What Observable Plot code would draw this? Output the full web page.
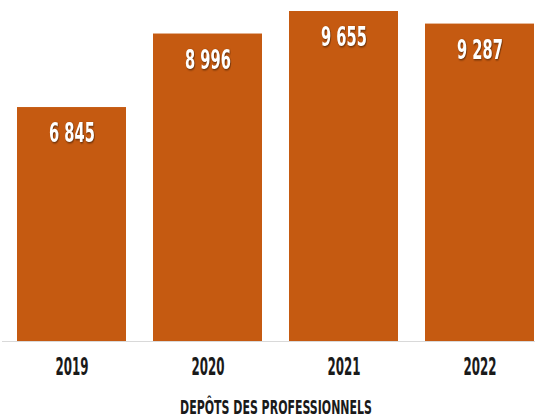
<!DOCTYPE html>
<html>
<head>
<meta charset="utf-8">
<script src="https://cdn.jsdelivr.net/npm/d3@7"></script>
<script src="https://cdn.jsdelivr.net/npm/@observablehq/plot@0.6"></script>
<style>
  html, body { margin: 0; padding: 0; background: white; }
  #chart svg { display: block; }
  #err { font: 10px monospace; color: red; position: absolute; top: 0; left: 0; }
</style>
</head>
<body>
<div id="chart"></div>
<div id="err"></div>
<script>
const years = ["2019", "2020", "2021", "2022"];
const depots = [6845, 8996, 9655, 9287];
const title = "DEPÔTS DES PROFESSIONNELS";

const data = years.map((y, i) => ({year: y, value: depots[i]}));
const fr = d3.formatLocale({decimal: ",", thousands: "\u00a0", grouping: [3], currency: ["", " €"]});
const fmt = fr.format(",d");
const valueLabels = depots.map(fmt);

const font = "'DejaVu Sans Condensed', 'Liberation Sans Narrow', sans-serif";

const chart = Plot.plot({
  width: 535,
  height: 417,
  marginTop: 11,
  marginBottom: 76,
  marginLeft: 16,
  marginRight: 0,
  style: {fontFamily: font, background: "white", overflow: "visible"},
  x: {domain: years, paddingInner: 0.195, paddingOuter: 0, label: null},
  y: {domain: [0, 9655], axis: null},
  marks: [
    Plot.barY(data, {x: "year", y: "value", fill: "#C55A11"}),
    Plot.ruleY([0], {stroke: "#d9d9d9", strokeWidth: 1, insetLeft: -14}),
    Plot.axisX({tickSize: 0, tickPadding: 16, fontSize: 24, fontWeight: "bold", fill: "#1a1a1a", label: null}),
    Plot.text(data, {
      x: "year", y: "value", text: d => fmt(d.value), dy: 26,
      fill: "white", fontSize: 27, fontWeight: "bold"
    }),
    Plot.text([title], {
      frameAnchor: "bottom", dy: 72, text: d => d, fontSize: 19, fontWeight: "bold", fill: "#1a1a1a"
    })
  ]
});
document.getElementById("chart").appendChild(chart);

// condense the text horizontally to mimic the narrow typeface of the original
try {
  const all = Array.from(chart.querySelectorAll("text"));
  const groups = [
    {match: t => valueLabels.includes(t), ref: valueLabels[0], width: 46, shadow: true},
    {match: t => years.includes(t), ref: years[0], width: 33},
    {match: t => t === title, ref: title, width: 192}
  ];
  for (const g of groups) {
    const els = all.filter(e => g.match(e.textContent));
    const refEl = els.find(e => e.textContent === g.ref) || els[0];
    if (!refEl) continue;
    const natural = refEl.getComputedTextLength();
    if (!natural) continue;
    const s = g.width / natural;
    for (const e of els) {
      const xa = e.getAttribute("x");
      const x = xa != null && isFinite(+xa) ? +xa : 0;
      if (xa != null && isFinite(+xa)) e.removeAttribute("x");
      const tr = e.getAttribute("transform") || "";
      e.setAttribute("transform", `${tr} translate(${x},0) scale(${s},1)`);
      if (g.shadow) e.style.filter = "drop-shadow(1.5px 1.5px 1px rgba(0,0,0,0.55))";
    }
  }
} catch (err) {
  document.getElementById("err").textContent = String(err);
}
</script>
</body>
</html>
